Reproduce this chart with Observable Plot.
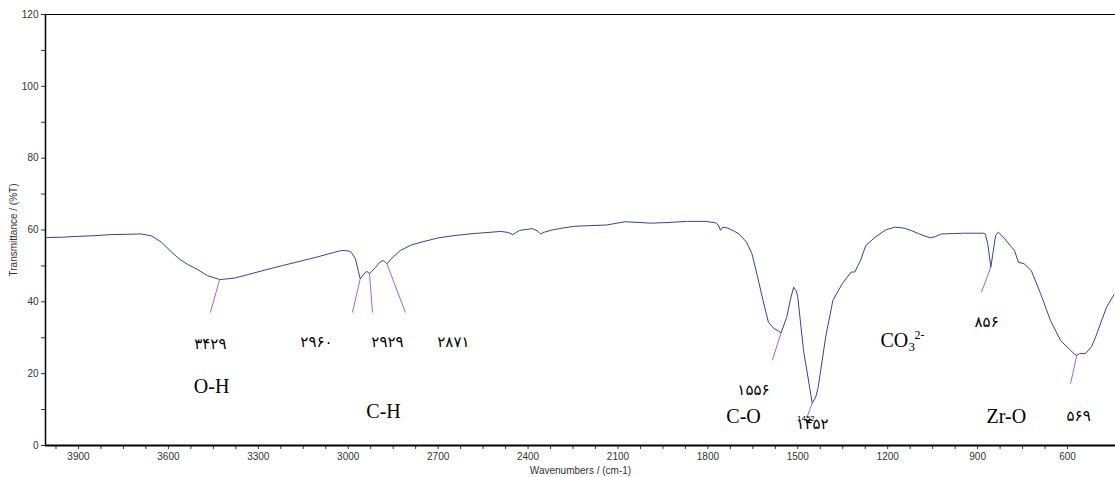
<!DOCTYPE html>
<html>
<head>
<meta charset="utf-8">
<script src="https://cdn.jsdelivr.net/npm/d3@7"></script>
<script src="https://cdn.jsdelivr.net/npm/@observablehq/plot@0.6"></script>
<style>
  html, body { margin: 0; padding: 0; background: #fff; }
  #chart svg { display: block; overflow: visible; }
</style>
</head>
<body>
<div id="chart"></div>
<script>
// FT-IR spectrum: wavenumber (cm-1) and transmittance (%T)
const wavenumbers = [
  4005, 3950, 3911, 3850, 3796, 3740, 3692, 3657, 3623, 3595, 3565, 3535, 3507, 3470, 3429,
  3380, 3334, 3280, 3219, 3160, 3103, 3050, 3022, 3000, 2990, 2976, 2966, 2960, 2950, 2940,
  2934, 2929, 2910, 2895, 2884, 2876, 2871, 2850, 2826, 2790, 2757, 2700, 2650, 2584, 2520,
  2491, 2465, 2451, 2440, 2428, 2400, 2387, 2370, 2358, 2345, 2320, 2295, 2249, 2200, 2138,
  2076, 2030, 1991, 1930, 1868, 1807, 1775, 1765, 1758, 1750, 1733, 1715, 1696, 1671, 1653,
  1634, 1616, 1598, 1580, 1565, 1556, 1537, 1525, 1514, 1505, 1500, 1481, 1465, 1452, 1440,
  1432, 1407, 1383, 1352, 1322, 1310, 1291, 1273, 1242, 1205, 1175, 1144, 1120, 1095, 1058,
  1040, 1021, 980, 948, 881, 874, 866, 856, 848, 840, 831, 814, 790, 777, 764,
  745, 721, 690, 657, 623, 590, 575, 569, 560, 540, 520, 505, 470, 445
];
const transmittance = [
  57.9, 58.0, 58.2, 58.4, 58.7, 58.8, 58.9, 58.4, 56.6, 54.3, 52.0, 50.4, 49.2, 47.3, 46.2,
  46.6, 47.6, 48.8, 50.1, 51.3, 52.5, 53.7, 54.3, 54.2, 53.8, 52.0, 48.5, 46.4, 47.5, 48.4,
  48.3, 47.8, 49.5, 51.0, 51.5, 51.0, 50.6, 52.5, 54.3, 55.8, 56.6, 57.8, 58.4, 59.0, 59.4,
  59.6, 59.3, 58.7, 59.3, 59.9, 60.2, 60.4, 59.8, 58.9, 59.4, 60.0, 60.4, 61.0, 61.2, 61.4,
  62.3, 62.1, 61.9, 62.1, 62.4, 62.4, 62.0, 61.4, 59.9, 60.8, 60.5, 59.8, 58.9, 56.6, 53.4,
  46.9, 40.4, 34.3, 32.6, 31.9, 31.3, 35.7, 40.5, 44.1, 43.0, 41.3, 26.5, 18.5, 11.8, 13.5,
  16.2, 30.2, 40.4, 45.0, 48.3, 48.3, 51.5, 55.7, 58.0, 60.1, 60.8, 60.5, 59.8, 58.9, 57.8,
  58.2, 58.9, 59.0, 59.1, 59.1, 58.9, 56.0, 49.7, 54.0, 58.5, 59.4, 58.0, 55.5, 54.3, 51.0,
  50.6, 48.7, 42.3, 34.8, 29.2, 26.5, 25.3, 25.1, 25.6, 25.6, 27.5, 30.5, 38.5, 42.0
];

// Assigned absorption bands (cm-1), their labels and leader lines
const bandWavenumbers = [3429, 2960, 2929, 2871, 1556, 1452, 856, 569];
const bandLabelW = [3460, 3106, 2869, 2649, 1648, 1451, 870, 563];
const bandLabelT = [28.1, 28.7, 28.7, 28.7, 15.3, 5.8, 34.3, 8.1];
const leaderW = [3460, 2986, 2919, 2809, 1585, 1469, 887, 590];
const leaderT = [37, 37, 37, 37, 23.7, 7.9, 42.7, 17.2];

// Functional group assignments
const groupNames = ["O-H", "C-H", "C-O", "Zr-O"];
const groupW = [3456, 2882, 1681, 804];
const groupT = [16.4, 9.5, 8.1, 8.1];

// Axis ticks
const xTicks = d3.range(600, 4001, 75);
const yTicks = d3.range(0, 121, 10);

const spectrum = wavenumbers.map((w, i) => ({w, t: transmittance[i]}));

// %T on the curve at a given wavenumber (linear interpolation, wavenumbers descending)
function transmittanceAt(w) {
  for (let i = 1; i < spectrum.length; i++) {
    const a = spectrum[i - 1], b = spectrum[i];
    if (w <= a.w && w >= b.w) {
      const f = (a.w - w) / (a.w - b.w);
      return a.t + f * (b.t - a.t);
    }
  }
  return NaN;
}

const toPersianDigits = n => String(n).replace(/\d/g, d => "۰۱۲۳۴۵۶۷۸۹"[d]);

const bands = bandWavenumbers.map((w, i) => ({
  w, t: transmittanceAt(w),
  label: toPersianDigits(w),
  lw: bandLabelW[i], lt: bandLabelT[i],
  ew: leaderW[i], et: leaderT[i]
}));
const groups = groupNames.map((name, i) => ({name, w: groupW[i], t: groupT[i]}));
const carbonate = [{w: 1181, t: 29.2}];
const co1452 = bands.find(b => b.w === 1452);

const xDomain = [4010, 440];

const chart = Plot.plot({
  width: 1115,
  height: 477,
  marginLeft: 45,
  marginRight: 0,
  marginTop: 14,
  marginBottom: 32,
  style: {fontFamily: "'Liberation Sans', Arial, sans-serif", fontSize: "10px", color: "#333", background: "#fff"},
  x: {domain: xDomain},
  y: {domain: [0, 120]},
  marks: [
    Plot.axisY({
      ticks: yTicks, tickSize: 4, tickPadding: 3,
      tickFormat: d => d % 20 === 0 ? String(d) : "",
      label: "Transmittance / (%T)", labelAnchor: "center", labelOffset: 36, labelArrow: "none"
    }),
    Plot.axisX({
      ticks: xTicks, tickSize: 4, tickPadding: 3,
      tickFormat: d => d % 300 === 0 ? String(d) : "",
      label: "Wavenumbers / (cm-1)", labelAnchor: "center", labelOffset: 28, labelArrow: "none"
    }),
    // plot frame
    Plot.ruleY([120], {stroke: "#000", strokeWidth: 1}),
    Plot.ruleX([xDomain[0]], {stroke: "#000", strokeWidth: 1.5}),
    Plot.ruleY([0], {stroke: "#000", strokeWidth: 2}),
    // spectrum
    Plot.line(spectrum, {x: "w", y: "t", stroke: "#3d3d9e", strokeWidth: 1}),
    // leader lines from band labels to the curve
    Plot.link(bands, {x1: "ew", y1: "et", x2: "w", y2: "t", stroke: "#9a68d8", strokeWidth: 1}),
    // band wavenumbers in Persian digits
    Plot.text(bands, {x: "lw", y: "lt", text: "label", fontFamily: "'DejaVu Sans', sans-serif", fontSize: 15, fill: "#000"}),
    Plot.text([co1452], {x: d => d.lw + 22, y: d => d.lt + 1.7, text: d => String(d.w), fontSize: 8, fill: "#000"}),
    // functional groups
    Plot.text(groups, {x: "w", y: "t", text: "name", fontFamily: "'Liberation Serif', 'Times New Roman', serif", fontSize: 20, fill: "#000"}),
    Plot.text(carbonate, {x: "w", y: "t", text: () => "CO", textAnchor: "start", dx: -13, fontFamily: "'Liberation Serif', serif", fontSize: 20, fill: "#000"}),
    Plot.text(carbonate, {x: "w", y: "t", text: () => "3", textAnchor: "start", dx: 15, dy: 6, fontFamily: "'Liberation Serif', serif", fontSize: 13, fill: "#000"}),
    Plot.text(carbonate, {x: "w", y: "t", text: () => "2-", textAnchor: "start", dx: 21, dy: -5, fontFamily: "'Liberation Serif', serif", fontSize: 12, fill: "#000"})
  ]
});

document.getElementById("chart").appendChild(chart);
</script>
</body>
</html>
